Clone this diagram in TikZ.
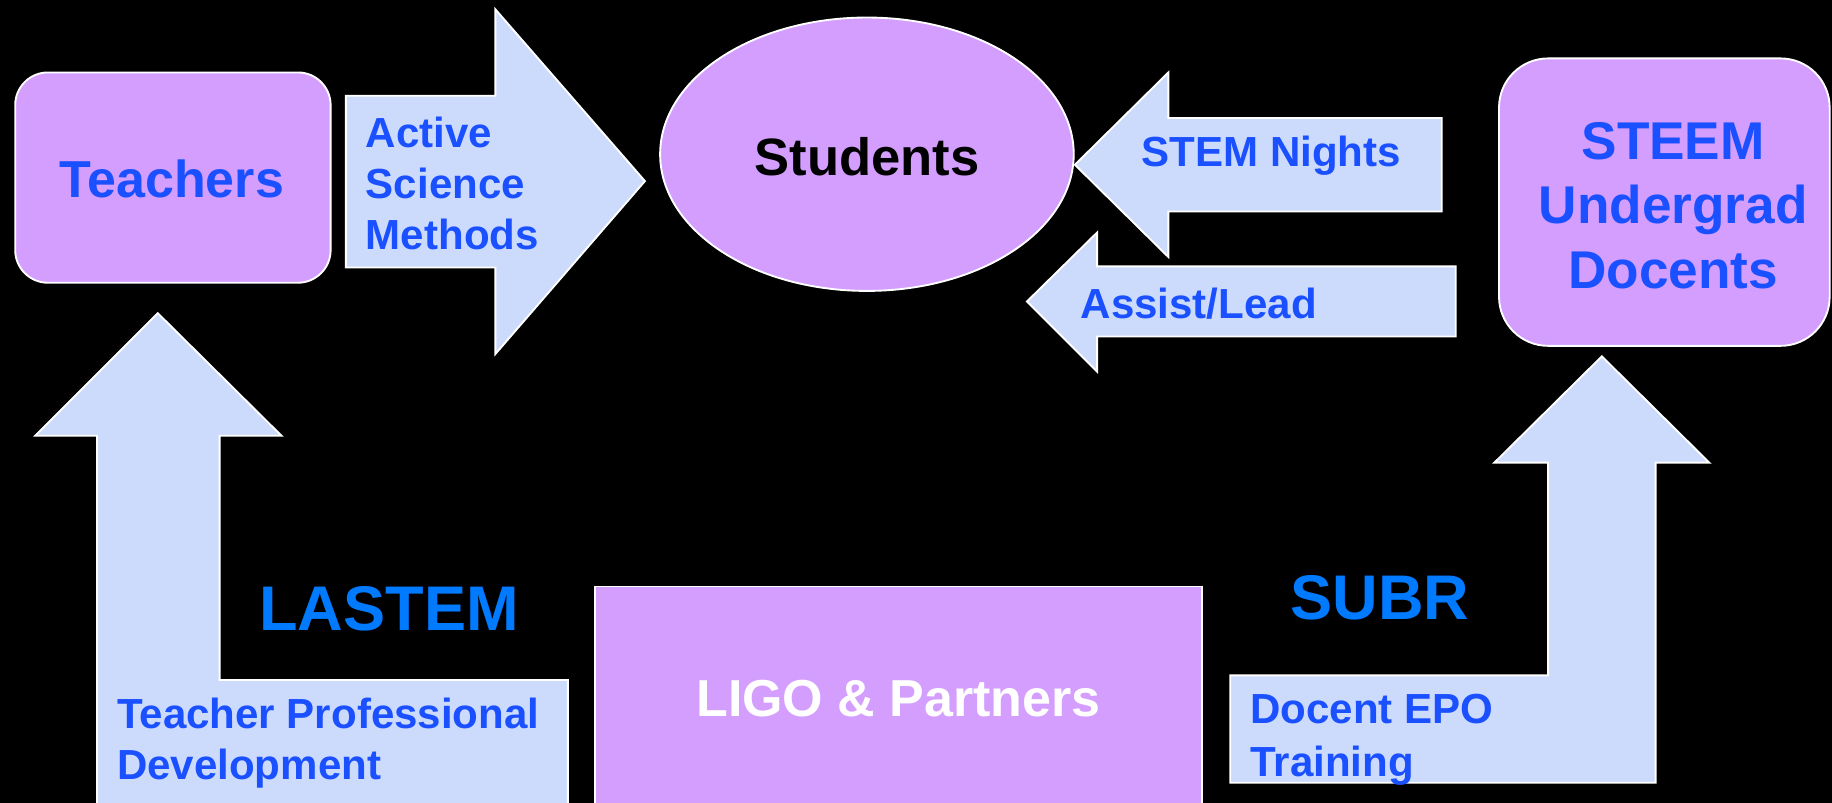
\documentclass[tikz,border=0pt]{standalone}
\usepackage{fontspec}
\setmainfont{Liberation Sans}
\definecolor{purp}{RGB}{212,158,255}
\definecolor{lblue}{RGB}{204,219,252}
\definecolor{tblue}{RGB}{26,80,255}
\definecolor{sblue}{RGB}{0,122,255}
\tikzset{
  purplebox/.style={fill=purp,draw=white,line width=1.6pt},
  blockarrow/.style={fill=lblue,draw=white,line width=1.6pt,line join=miter},
  lbl/.style={inner sep=0pt,text=tblue,font=\bfseries\fontsize{36}{44}\selectfont},
  bigl/.style={inner sep=0pt,text=tblue,font=\bfseries\fontsize{44.5}{55}\selectfont},
  orgl/.style={inner sep=0pt,text=sblue,font=\bfseries\fontsize{54}{60}\selectfont}
}
\begin{document}
\begin{tikzpicture}[x=1pt,y=-1pt]
\fill[black] (0,0) rectangle (1568,687);
\useasboundingbox (0,0) rectangle (1568,687);
% boxes
\draw[purplebox,rounded corners=28pt] (13,62) rectangle (283,242);
\node[bigl] (teachers) at (147,153) {Teachers};
\draw[purplebox] (742,132) ellipse [x radius=177, y radius=117];
\node[bigl,text=black,font=\bfseries\fontsize{45}{55}\selectfont] (students) at (742,134) {Students};
\draw[purplebox,rounded corners=42pt] (1283,50) rectangle (1566,296);
\node[bigl,align=center,font=\bfseries\fontsize{45.5}{55}\selectfont] (docents) at (1432,176) {STEEM\\Undergrad\\Docents};
\draw[purplebox] (509,502) rectangle (1029,695);
\node[bigl,text=white] (ligo) at (769,598) {LIGO \& Partners};
% arrows
\draw[blockarrow] (296,82) -- (424,82) -- (424,8) -- (552,155) -- (424,303) -- (424,229) -- (296,229) -- cycle;
\node[lbl,align=left,anchor=west] (active) at (313,157) {Active\\Science\\Methods};
\draw[blockarrow] (920,141) -- (1000,62) -- (1000,101) -- (1234,101) -- (1234,181) -- (1000,181) -- (1000,220) -- cycle;
\node[lbl] (stem) at (1088,133) {STEM Nights};
\draw[blockarrow] (879,258) -- (939,199) -- (939,228) -- (1246,228) -- (1246,288) -- (939,288) -- (939,318) -- cycle;
\node[lbl] (assist) at (1026,260) {Assist/Lead};
\draw[blockarrow] (83,695) -- (83,373) -- (30,373) -- (135,268) -- (241,373) -- (188,373) -- (188,582) -- (486,582) -- (486,695) -- cycle;
\node[lbl,align=left,anchor=west,font=\bfseries\fontsize{36}{43}\selectfont] (tpd) at (100,636) {Teacher Professional\\Development};
\draw[blockarrow] (1053,578) -- (1325,578) -- (1325,396) -- (1279,396) -- (1371,305) -- (1463,396) -- (1417,396) -- (1417,670) -- (1053,670) -- cycle;
\node[lbl,align=left,anchor=west,font=\bfseries\fontsize{36}{45}\selectfont] (epo) at (1070,633) {Docent EPO\\Training};
% org labels
\node[orgl] (lastem) at (333,521) {LASTEM};
\node[orgl] (subr) at (1181,512) {SUBR};
\end{tikzpicture}
\end{document}
